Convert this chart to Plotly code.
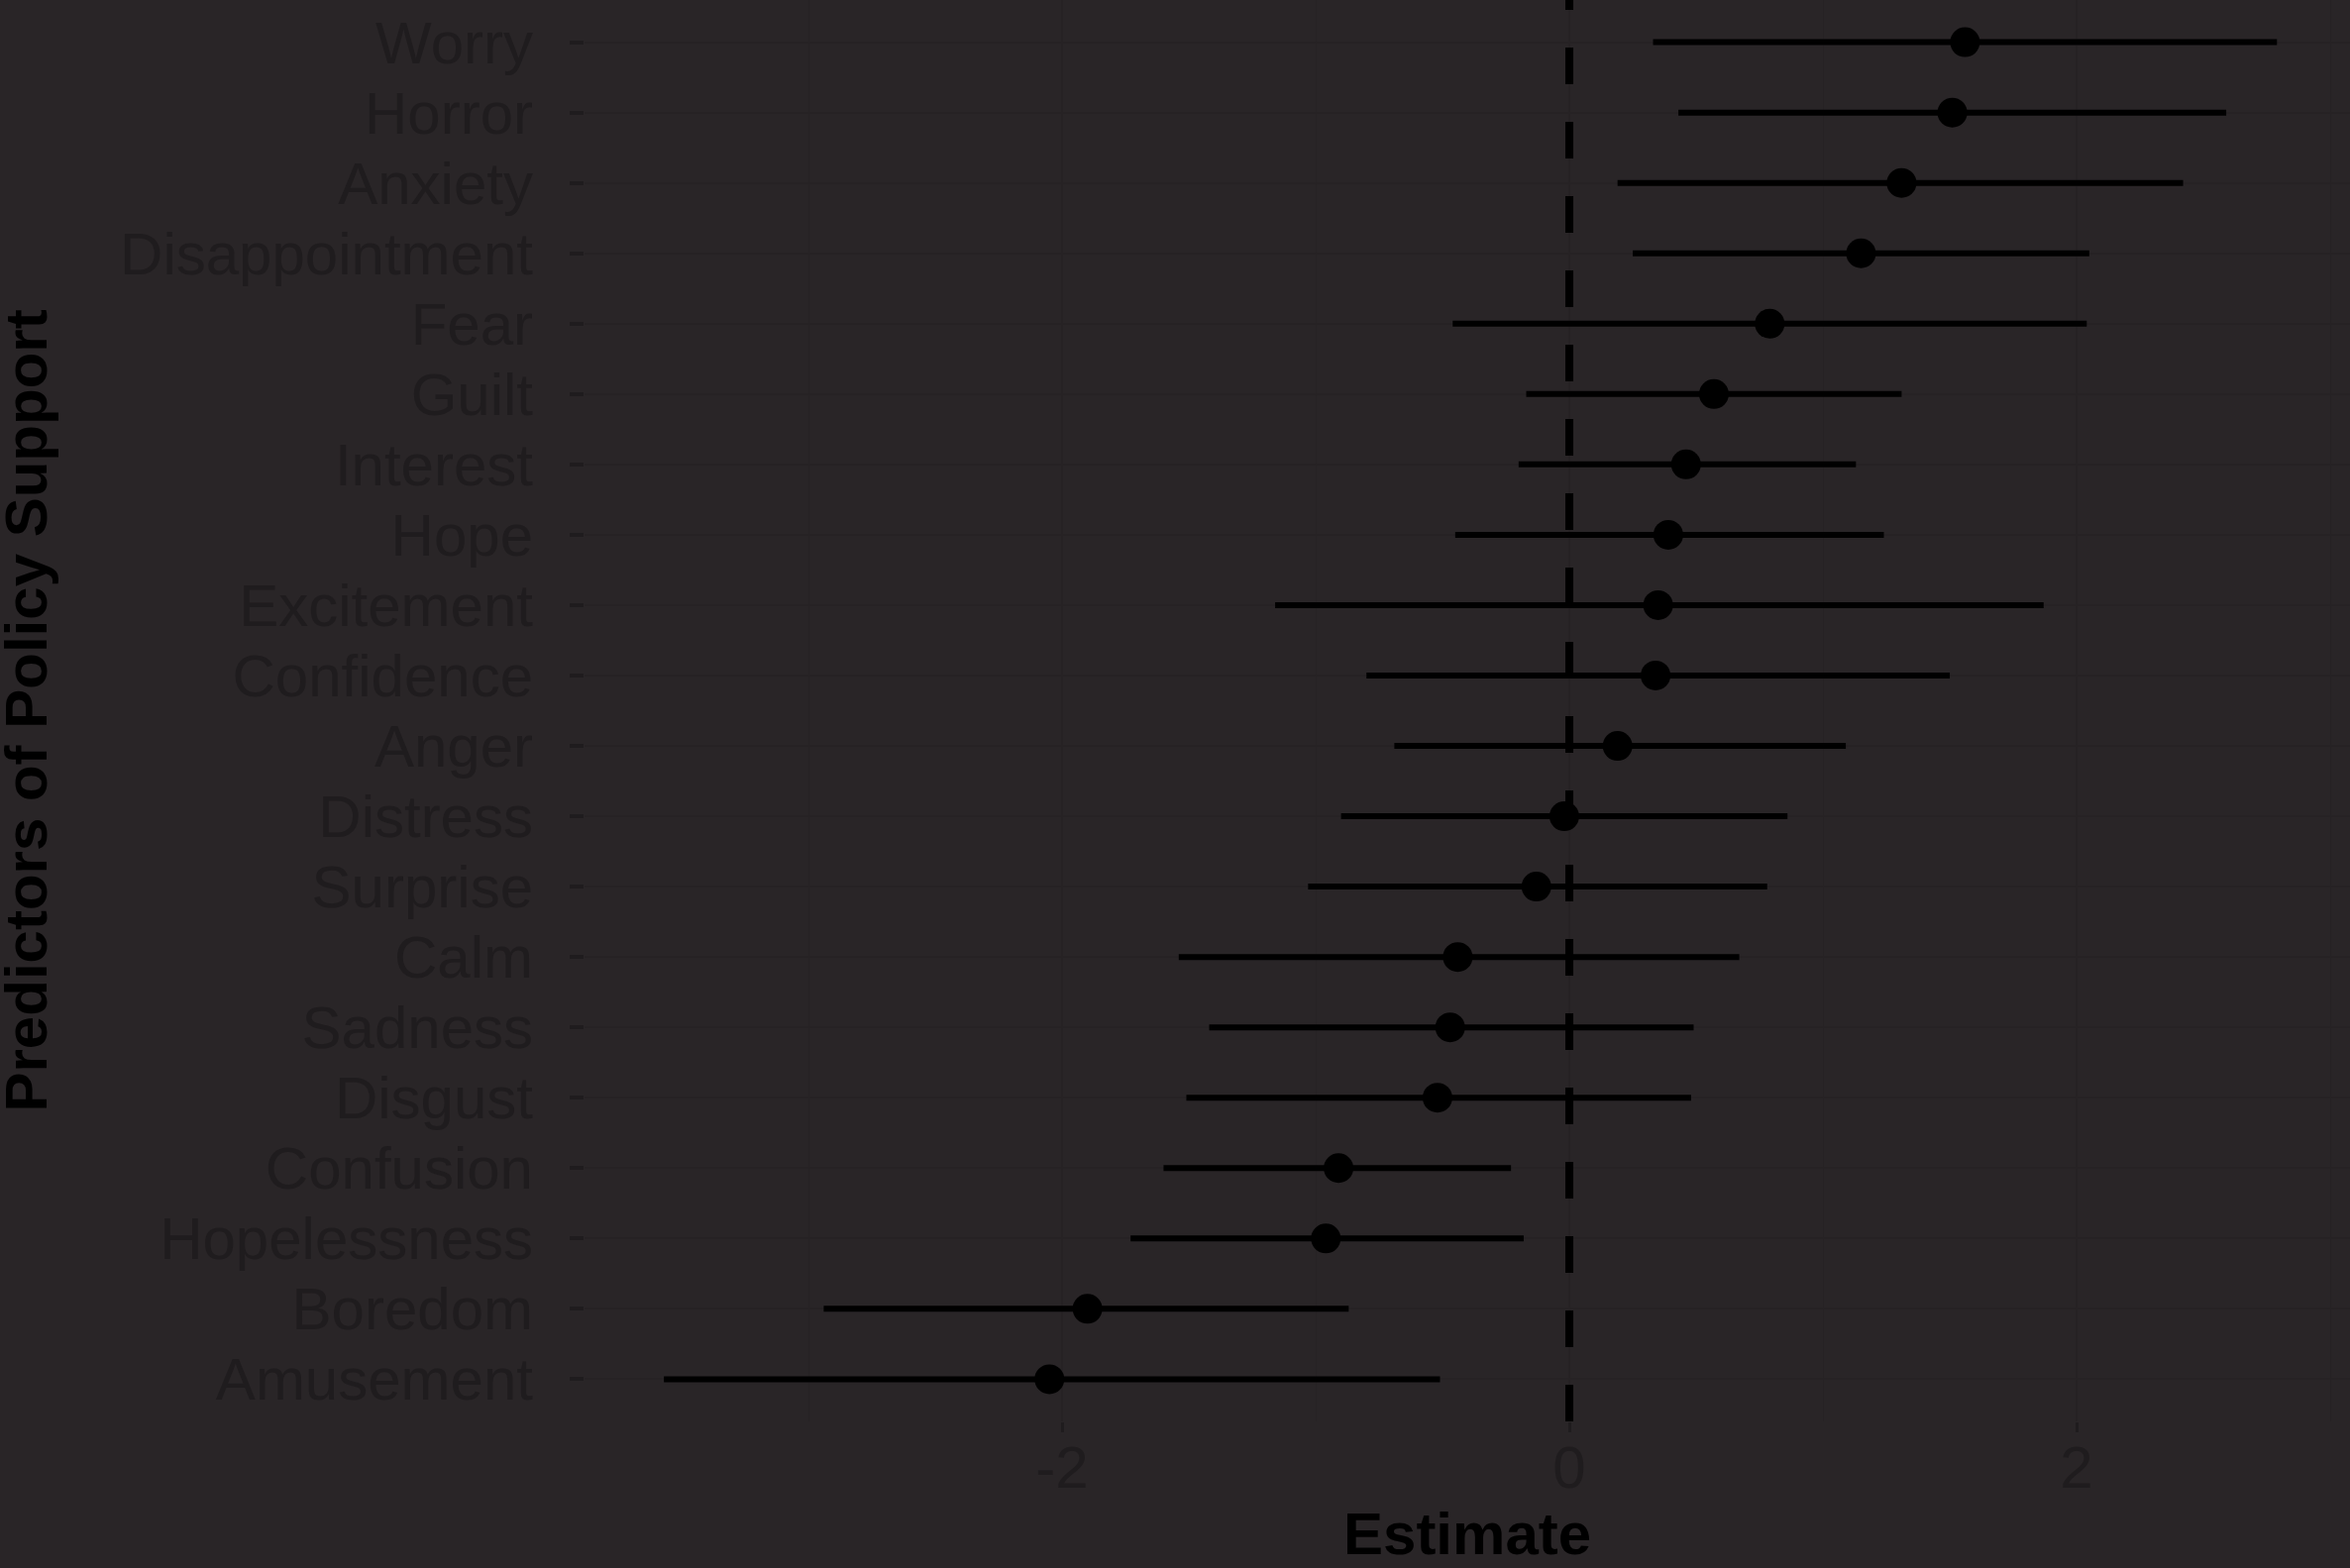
import plotly.graph_objects as go

# Predictors of policy support: point estimates with confidence intervals
predictors = [
    "Amusement", "Boredom", "Hopelessness", "Confusion", "Disgust",
    "Sadness", "Calm", "Surprise", "Distress", "Anger",
    "Confidence", "Excitement", "Hope", "Interest", "Guilt",
    "Fear", "Disappointment", "Anxiety", "Horror", "Worry",
]
estimate = [
    -2.05, -1.90, -0.96, -0.91, -0.52,
    -0.47, -0.44, -0.13, -0.02, 0.19,
    0.34, 0.35, 0.39, 0.46, 0.57,
    0.79, 1.15, 1.31, 1.51, 1.56,
]
ci_low = [
    -3.57, -2.94, -1.73, -1.60, -1.51,
    -1.42, -1.54, -1.03, -0.90, -0.69,
    -0.80, -1.16, -0.45, -0.20, -0.17,
    -0.46, 0.25, 0.19, 0.43, 0.33,
]
ci_high = [
    -0.51, -0.87, -0.18, -0.23, 0.48,
    0.49, 0.67, 0.78, 0.86, 1.09,
    1.50, 1.87, 1.24, 1.13, 1.31,
    2.04, 2.05, 2.42, 2.59, 2.79,
]
x_ticks = [-2, 0, 2]
x_tick_labels = ["-2", "0", "2"]

BG = "#292527"
TEXT = "#1f1c1e"
GRID = "#262224"
FONT = "Liberation Sans, Arial, Helvetica, sans-serif"

err_plus = [h - e for h, e in zip(ci_high, estimate)]
err_minus = [e - l for e, l in zip(estimate, ci_low)]

fig = go.Figure()

# reference line at zero
fig.add_shape(
    type="line", xref="x", yref="paper",
    x0=0, x1=0, y0=0, y1=1,
    line=dict(color="#000000", width=8, dash="37px,38px"),
    layer="above",
)

fig.add_trace(go.Scatter(
    x=estimate,
    y=predictors,
    mode="markers",
    marker=dict(color="#000000", size=30, line=dict(width=0)),
    error_x=dict(
        type="data", symmetric=False,
        array=err_plus, arrayminus=err_minus,
        color="#000000", thickness=6, width=0,
    ),
    showlegend=False,
    hoverinfo="skip",
))

fig.update_layout(
    width=2372, height=1583,
    paper_bgcolor=BG, plot_bgcolor=BG,
    margin=dict(l=590, r=0, t=0, b=148),
    font=dict(family=FONT, color=TEXT, size=60),
    xaxis=dict(
        range=[-3.883, 3.078],
        tickmode="array", tickvals=x_ticks, ticktext=x_tick_labels,
        showgrid=True, gridcolor=GRID, gridwidth=2,
        minor=dict(dtick=1, tick0=0, showgrid=True, gridcolor=GRID, gridwidth=1),
        zeroline=False, showline=False,
        ticks="outside", ticklen=10, tickwidth=3, tickcolor=TEXT,
        tickfont=dict(size=60, color=TEXT, family=FONT),
        ticklabelstandoff=-16,
    ),
    yaxis=dict(
        type="category",
        categoryorder="array", categoryarray=predictors,
        tickmode="array", tickvals=predictors, ticktext=predictors,
        range=[-0.6, len(predictors) - 0.4],
        showgrid=True, gridcolor=GRID, gridwidth=2,
        zeroline=False, showline=False,
        ticks="outside", ticklen=14, tickwidth=4, tickcolor=TEXT,
        tickfont=dict(size=60, color=TEXT, family=FONT),
        ticklabelstandoff=25,
    ),
    annotations=[
        dict(
            text="<b>Estimate</b>", xref="paper", yref="paper",
            x=0.5, y=-(1548 - 1435) / 1435, xanchor="center", yanchor="middle",
            showarrow=False, font=dict(size=60, color="#000000", family=FONT),
        ),
        dict(
            text="<b>Predictors of Policy Support</b>", xref="paper", yref="paper",
            x=(26 - 590) / 1782, y=0.5, xanchor="center", yanchor="middle",
            textangle=-90, showarrow=False,
            font=dict(size=60, color="#000000", family=FONT),
        ),
    ],
)

fig.write_html("out.html")
